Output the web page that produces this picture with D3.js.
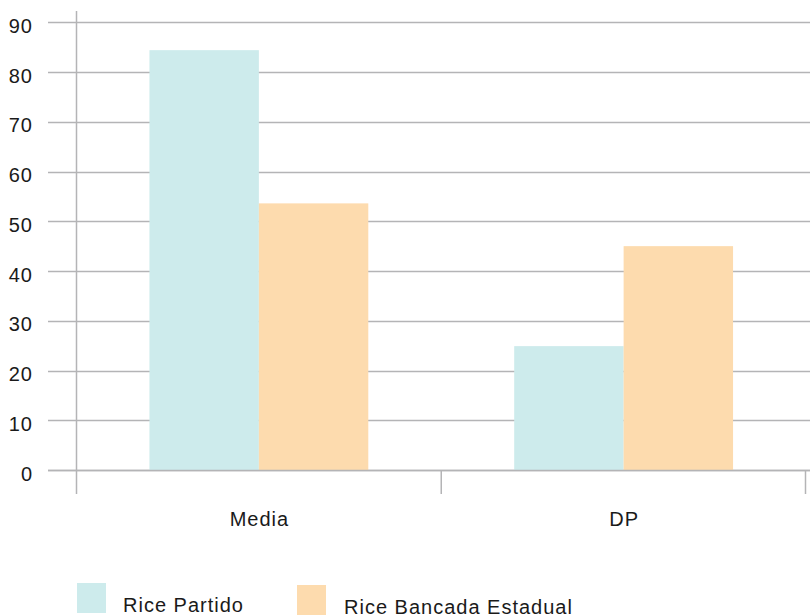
<!DOCTYPE html>
<html><head><meta charset="utf-8">
<script src="https://cdn.jsdelivr.net/npm/d3@7"></script>
<style>body{margin:0;background:#fff}svg{display:block}text{font-family:"Liberation Sans",Arial,sans-serif;letter-spacing:1px}</style>
</head><body>
<svg id="c" width="810" height="616"></svg>
<script>
const categories = ["Media", "DP"];
const seriesNames = ["Rice Partido", "Rice Bancada Estadual"];
const ricePartido = [84.4, 24.9];
const riceBancada = [53.6, 45];
const yTicks = [0, 10, 20, 30, 40, 50, 60, 70, 80, 90];
const colors = ["#cdebec", "#fddbae"];

const svg = d3.select("#c");
const y = d3.scaleLinear().domain([0, 90]).range([470, 22.3]);
const x0 = d3.scaleBand().domain(categories).range([76.5, 806]).padding(0);
const bw = x0.bandwidth();
const x1 = d3.scaleBand().domain(seriesNames).range([bw * 0.2, bw * 0.8]).padding(0);

const grid = "#b4b4b6";
const fs = 20;
// gridlines
svg.append("g").selectAll("line").data(yTicks).join("line")
  .attr("x1", 48).attr("x2", 810)
  .attr("y1", d => Math.round(y(d)) + 0.5).attr("y2", d => Math.round(y(d)) + 0.5)
  .attr("stroke", grid).attr("stroke-width", 1.5);

// bars
const data = categories.map((c, i) => ({c, vals: [ricePartido[i], riceBancada[i]]}));
svg.append("g").selectAll("g").data(data).join("g")
  .attr("transform", d => `translate(${x0(d.c)},0)`)
  .selectAll("rect").data(d => d.vals.map((v, j) => ({v, s: seriesNames[j], j})))
  .join("rect")
  .attr("x", d => x1(d.s)).attr("width", x1.bandwidth())
  .attr("y", d => y(d.v)).attr("height", d => y(0) - y(d.v))
  .attr("fill", d => colors[d.j]);

// baseline on top
svg.append("line").attr("x1", 48).attr("x2", 810)
  .attr("y1", Math.round(y(0)) + 0.5).attr("y2", Math.round(y(0)) + 0.5)
  .attr("stroke", grid).attr("stroke-width", 1.5);

// y axis vertical line
svg.append("line").attr("x1", 76.5).attr("x2", 76.5).attr("y1", 11).attr("y2", 494)
  .attr("stroke", grid).attr("stroke-width", 1.5);

// category separators
const seps = [x0.range()[0] + bw, x0.range()[1] - 0.5];
svg.append("g").selectAll("line").data(seps).join("line")
  .attr("x1", d => d).attr("x2", d => d).attr("y1", 470).attr("y2", 494)
  .attr("stroke", grid).attr("stroke-width", 1.5);

// y tick labels
svg.append("g").selectAll("text").data(yTicks).join("text")
  .attr("x", 33).attr("y", d => y(d) + 10.5)
  .attr("text-anchor", "end").attr("font-size", fs).attr("fill", "#1a1a1a")
  .text(d => d);

// category labels
svg.append("g").selectAll("text").data(categories).join("text")
  .attr("x", d => x0(d) + bw / 2 + 0.5).attr("y", 525.5)
  .attr("text-anchor", "middle").attr("font-size", fs).attr("fill", "#1a1a1a")
  .text(d => d);

// legend
const leg = [{x: 77, y: 583, tx: 123, ty: 612}, {x: 297, y: 585, tx: 344, ty: 614}];
seriesNames.forEach((s, i) => {
  svg.append("rect").attr("x", leg[i].x).attr("y", leg[i].y).attr("width", 29).attr("height", 30).attr("fill", colors[i]);
  svg.append("text").attr("x", leg[i].tx).attr("y", leg[i].ty).attr("font-size", fs).attr("fill", "#1a1a1a").text(s);
});
</script>
</body></html>
